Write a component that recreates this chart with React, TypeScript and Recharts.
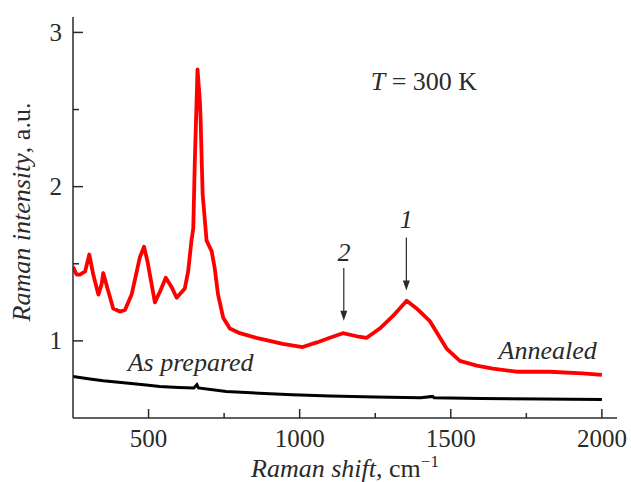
import React from "react";
import {
  LineChart,
  Line,
  XAxis,
  YAxis,
  ReferenceLine,
  ReferenceDot,
  Label,
} from "recharts";

const annealedShift = [
  250, 262, 273, 290, 304, 317, 334, 345, 350, 367, 383, 405, 422, 444, 471,
  485, 496, 521, 538, 557, 576, 593, 620, 631, 642, 648, 653, 662, 670, 672,
  679, 692, 709, 719, 730, 747, 769, 802, 857, 901, 944, 1010, 1057, 1100,
  1143, 1189, 1222, 1265, 1308, 1354, 1387, 1430, 1486, 1530, 1586, 1639,
  1718, 1827, 1936, 2000,
];
const annealedIntensity = [
  1.48, 1.43, 1.43, 1.45, 1.56, 1.43, 1.3, 1.37, 1.44, 1.32, 1.21, 1.19, 1.2,
  1.3, 1.54, 1.61, 1.52, 1.25, 1.32, 1.41, 1.35, 1.28, 1.34, 1.45, 1.65, 1.73,
  2.16, 2.76, 2.55, 2.45, 1.95, 1.65, 1.58, 1.47, 1.3, 1.15, 1.08, 1.05, 1.02,
  1.0, 0.98, 0.96, 0.99, 1.02, 1.05, 1.03, 1.02, 1.08, 1.16, 1.26, 1.21, 1.13,
  0.95, 0.87, 0.84, 0.82, 0.8, 0.8, 0.79, 0.78,
];

// as prepared (black) curve
const preparedShift = [
  250, 300, 350, 426, 500, 537, 600, 650, 660, 665, 757, 866, 976, 1100, 1250,
  1400, 1440, 1445, 1600, 1800, 2000,
];
const preparedIntensity = [
  0.77, 0.755, 0.742, 0.727, 0.712, 0.705, 0.698, 0.694, 0.716, 0.695, 0.672,
  0.661, 0.65, 0.642, 0.636, 0.632, 0.64, 0.631, 0.627, 0.623, 0.62,
];

const xTicks = [500, 750, 1000, 1250, 1500, 1750, 2000];
const yTicks = [1, 1.5, 2, 2.5, 3];

const annealed = annealedShift.map((x, i) => ({ x, y: annealedIntensity[i] }));
const prepared = preparedShift.map((x, i) => ({ x, y: preparedIntensity[i] }));

const FONT = "'Liberation Serif', 'Times New Roman', serif";
const INK = "#2a2a2a";

const XTick = (props: any) => {
  const { x, y, payload } = props;
  const major = payload.value % 500 === 0;
  return (
    <g>
      <line x1={x} y1={y} x2={x} y2={y - (major ? 9 : 5)} stroke={INK} strokeWidth={1.5} />
      {major && (
        <text x={x} y={y + 29} textAnchor="middle" fontFamily={FONT} fontSize={25} fill={INK}>
          {payload.value}
        </text>
      )}
    </g>
  );
};

const YTick = (props: any) => {
  const { x, y, payload } = props;
  const major = Number.isInteger(payload.value);
  return (
    <g>
      <line x1={x} y1={y} x2={x + (major ? 10 : 6)} y2={y} stroke={INK} strokeWidth={1.5} />
      {major && (
        <text x={x - 11} y={y + 8.5} textAnchor="end" fontFamily={FONT} fontSize={25} fill={INK}>
          {payload.value}
        </text>
      )}
    </g>
  );
};

const XTitle = (props: any) => {
  const { viewBox } = props;
  const cx = viewBox.x + viewBox.width / 2;
  return (
    <text x={cx} y={viewBox.y + 59} textAnchor="middle" fontFamily={FONT} fontSize={26} fill={INK}>
      <tspan fontStyle="italic">Raman shift</tspan>
      <tspan>, cm</tspan>
      <tspan fontSize={17} dy={-10}>−1</tspan>
    </text>
  );
};

const YTitle = () => {
  const cy = 212;
  const bx = 30;
  return (
    <text
      x={bx}
      y={cy}
      textAnchor="middle"
      transform={`rotate(-90, ${bx}, ${cy})`}
      fontFamily={FONT}
      fontSize={26}
      fill={INK}
    >
      <tspan fontStyle="italic">Raman intensity</tspan>
      <tspan>, a.u.</tspan>
    </text>
  );
};

const note = (content: React.ReactNode, anchor: string = "start") => (props: any) => (
  <text x={props.cx} y={props.cy} textAnchor={anchor} fontFamily={FONT} fontSize={26} fill={INK}>
    {content}
  </text>
);

const arrowHead = (props: any) => {
  const { cx, cy } = props;
  return <polygon points={`${cx - 3.5},${cy - 10} ${cx + 3.5},${cy - 10} ${cx},${cy}`} fill={INK} />;
};

export default function App() {
  return (
    <div style={{ position: "absolute", left: 0, top: 0, background: "#fff" }}>
      <LineChart width={631} height={482} margin={{ top: 17, right: 14, bottom: 14, left: 13 }}>
        <XAxis
          type="number"
          dataKey="x"
          domain={[250, 2050]}
          ticks={xTicks}
          allowDataOverflow
          height={50}
          tickSize={0}
          tickMargin={0}
          tickLine={false}
          tick={<XTick />}
          stroke={INK}
          strokeWidth={1.5}
        >
          <Label content={<XTitle />} />
        </XAxis>
        <YAxis
          type="number"
          dataKey="y"
          domain={[0.5, 3.1]}
          ticks={yTicks}
          allowDataOverflow
          width={60}
          tickSize={0}
          tickMargin={0}
          tickLine={false}
          tick={<YTick />}
          stroke={INK}
          strokeWidth={1.5}
        >
          <Label content={<YTitle />} />
        </YAxis>
        <Line
          data={prepared}
          dataKey="y"
          type="linear"
          stroke="#000"
          strokeWidth={3}
          dot={false}
          isAnimationActive={false}
        />
        <Line
          data={annealed}
          dataKey="y"
          type="linear"
          stroke="#ff0000"
          strokeWidth={3.8}
          strokeLinejoin="round"
          dot={false}
          isAnimationActive={false}
        />
        <ReferenceLine segment={[{ x: 1353, y: 1.671 }, { x: 1353, y: 1.36 }]} stroke={INK} strokeWidth={1.2} />
        <ReferenceDot x={1353} y={1.326} shape={arrowHead} />
        <ReferenceLine segment={[{ x: 1146, y: 1.472 }, { x: 1146, y: 1.16 }]} stroke={INK} strokeWidth={1.2} />
        <ReferenceDot x={1146} y={1.131} shape={arrowHead} />
        <ReferenceDot x={1353} y={1.73} shape={note(<tspan fontStyle="italic">1</tspan>, "middle")} />
        <ReferenceDot x={1147} y={1.516} shape={note(<tspan fontStyle="italic">2</tspan>, "middle")} />
        <ReferenceDot
          x={1235}
          y={2.624}
          shape={note(
            <>
              <tspan fontStyle="italic">T</tspan>
              <tspan> = 300 K</tspan>
            </>
          )}
        />
        <ReferenceDot x={431} y={0.802} shape={note(<tspan fontStyle="italic">As prepared</tspan>)} />
        <ReferenceDot x={1658} y={0.88} shape={note(<tspan fontStyle="italic">Annealed</tspan>)} />
      </LineChart>
    </div>
  );
}
